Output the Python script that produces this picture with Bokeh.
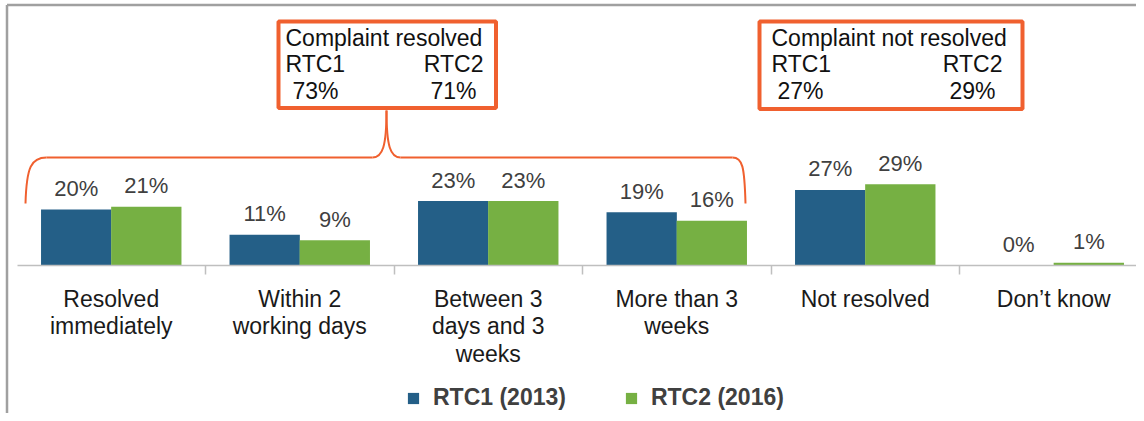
from bokeh.plotting import figure
from bokeh.models import Range1d, LinearAxis, FixedTicker, Legend, LegendItem
from bokeh.core.properties import value
from bokeh.embed import file_html
from bokeh.resources import INLINE

# ---------------- data ----------------
categories = ["Resolved\nimmediately", "Within 2\nworking days",
              "Between 3\ndays and 3\nweeks", "More than 3\nweeks",
              "Not resolved", "Don\u2019t know"]
rtc1 = [20, 11, 23, 19, 27, 0]
rtc2 = [21, 9, 23, 16, 29, 1]
series = ["RTC1 (2013)", "RTC2 (2016)"]
box_titles = ["Complaint resolved", "Complaint not resolved"]
box_cols = ["RTC1", "RTC2"]
resolved_totals = [73, 71]
not_resolved_totals = [27, 29]

# ---------------- style / layout ----------------
BLUE = "#245F87"
GREEN = "#76B043"
ORANGE = "#F0602F"
FONT = "Liberation Sans"

W, H = 1136, 413
CAT_PX = 188.5          # pixels per category
XS = -16.5 / CAT_PX
XE = XS + W / CAT_PX
BASE = 265.0            # pixel row of the zero line
PPU = 2.8               # pixels per percentage point
YE = BASE / PPU
YS = (BASE - H) / PPU


def X(px):
    return XS + px / CAT_PX


def Y(py):
    return (BASE - py) / PPU


p = figure(width=W, height=H, x_range=Range1d(XS, XE), y_range=Range1d(YS, YE),
           output_backend="svg", toolbar_location=None,
           x_axis_location=None, y_axis_location=None, min_border=0)
p.outline_line_color = None
p.grid.visible = False

n = len(categories)
centers = [i + 0.5 for i in range(n)]
off = 0.186
bw = 0.373

r1 = p.vbar(x=[c - off for c in centers], top=rtc1, width=bw, bottom=0,
            fill_color=BLUE, line_color=None)
r2 = p.vbar(x=[c + off for c in centers], top=rtc2, width=bw, bottom=0,
            fill_color=GREEN, line_color=None)

for xs, vals in (([c - off for c in centers], rtc1), ([c + off for c in centers], rtc2)):
    p.text(x=xs, y=vals, text=[f"{v}%" for v in vals], text_align="center",
           text_baseline="middle", y_offset=-21, text_color="#404040",
           text_font=value(FONT), text_font_size="22px")

ax = LinearAxis(ticker=FixedTicker(ticks=centers, minor_ticks=list(range(1, n))),
                fixed_location=0, bounds=(0, n),
                major_label_overrides={c: lab for c, lab in zip(centers, categories)},
                axis_line_color="#BFBFBF", axis_line_width=1.5,
                major_tick_line_color=None, major_tick_in=0, major_tick_out=0,
                minor_tick_line_color="#BFBFBF", minor_tick_line_width=1.5,
                minor_tick_in=0, minor_tick_out=9,
                major_label_standoff=11,
                major_label_text_font=FONT, major_label_text_font_size="23px",
                major_label_text_color="#1A1A1A",
                major_label_text_line_height=1.07)
p.add_layout(ax, "below")

# outer frame lines (top and left)
p.segment(x0=[X(6.5), X(6.5)], y0=[Y(4.5), Y(4.5)], x1=[X(6.5), XE], y1=[YS, Y(4.5)],
          line_color="#A0A0A0", line_width=2.5)

# boxes
p.quad(left=[X(278), X(759)], right=[X(495.5), X(1022)],
       top=[Y(21), Y(21)], bottom=[Y(107.5), Y(108.5)],
       fill_color="white", line_color=ORANGE, line_width=4)

# box texts
left_x = [X(285), X(771)]
right_x = [X(483), X(1002)]
txt = dict(text_font=value(FONT), text_font_size="23px", text_color="#111111",
           text_baseline="middle")
p.text(x=left_x, y=[Y(37), Y(37)], text=box_titles, text_align="left", **txt)
p.text(x=left_x, y=[Y(63.5), Y(63.5)], text=[box_cols[0], box_cols[0]],
       text_align="left", **txt)
p.text(x=right_x, y=[Y(63.5), Y(63.5)], text=[box_cols[1], box_cols[1]],
       text_align="right", **txt)
p.text(x=[X(292), X(777)], y=[Y(90.5), Y(90.5)],
       text=[f"{resolved_totals[0]}%", f"{not_resolved_totals[0]}%"],
       text_align="left", **txt)
p.text(x=[X(476), X(995)], y=[Y(90.5), Y(90.5)],
       text=[f"{resolved_totals[1]}%", f"{not_resolved_totals[1]}%"],
       text_align="right", **txt)

# brace
p.bezier(x0=[X(25), X(372), X(386), X(732)],
         y0=[Y(203), Y(157), Y(110), Y(157)],
         x1=[X(46), X(386), X(400), X(745)],
         y1=[Y(157), Y(110), Y(157), Y(203)],
         cx0=[X(26), X(382), X(386), X(742)],
         cy0=[Y(166), Y(157), Y(146), Y(157)],
         cx1=[X(31), X(386), X(390), X(744)],
         cy1=[Y(157), Y(146), Y(157), Y(166)],
         line_color=ORANGE, line_width=2)
p.segment(x0=[X(46), X(400)], y0=[Y(157), Y(157)],
          x1=[X(372), X(732)], y1=[Y(157), Y(157)],
          line_color=ORANGE, line_width=2)

legend = Legend(items=[LegendItem(label=series[0], renderers=[r1]),
                       LegendItem(label=series[1], renderers=[r2])],
                orientation="horizontal", location=(406, 2),
                glyph_width=14, glyph_height=14, label_standoff=13,
                spacing=58, padding=0, margin=0,
                border_line_color=None, background_fill_alpha=0,
                label_text_font=FONT, label_text_font_size="23px",
                label_text_font_style="bold", label_text_color="#404040")
p.add_layout(legend, "center")

open("out.html", "w").write(file_html(p, INLINE))
